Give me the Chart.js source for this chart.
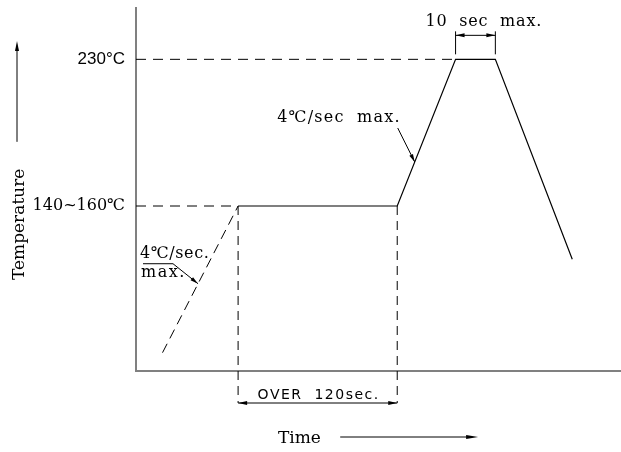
<!DOCTYPE html>
<html>
<head>
<meta charset="utf-8">
<script src="https://cdn.jsdelivr.net/npm/chart.js@4.4.1/dist/chart.umd.min.js"></script>
<style>
  html, body { margin: 0; padding: 0; background: #fff; }
  #wrap { width: 621px; height: 452px; }
</style>
</head>
<body>
<div id="wrap"><canvas id="c" width="621" height="452"></canvas></div>
<script>
// ---- data ----
const profileTime = [77, 197, 241, 271, 329];   // soak start, soak end, peak start, peak end, cool end
const profileTemp = [150, 150, 230, 230, 121];
const preheatTime = [20, 77];
const preheatTemp = [70, 150];
const tickTemps = [150, 230];
const tickLabels = ['140~160\u2103', '230\u00B0C'];
const axisTime = [0, 365];
const axisTemp = [60, 258];

const SERIF = '"DejaVu Serif", "Liberation Serif", serif';

function arrowHead(ctx, x, y, ang, len, half) {
  ctx.save();
  ctx.translate(x, y);
  ctx.rotate(ang);
  ctx.beginPath();
  ctx.moveTo(0, 0);
  ctx.lineTo(-len, -half);
  ctx.lineTo(-len, half);
  ctx.closePath();
  ctx.fill();
  ctx.restore();
}

function spacedText(ctx, txt, x, y, spacing) {
  ctx.letterSpacing = spacing + 'px';
  ctx.fillText(txt, x, y);
  ctx.letterSpacing = '0px';
}

const annot = {
  id: 'annot',
  afterDatasetsDraw(chart) {
    const ctx = chart.ctx;
    const xs = chart.scales.x, ys = chart.scales.y;
    const area = chart.chartArea;
    const sx = v => xs.getPixelForValue(v);
    const sy = v => ys.getPixelForValue(v);
    ctx.save();
    ctx.strokeStyle = '#000';
    ctx.fillStyle = '#000';
    ctx.lineWidth = 1;
    ctx.textBaseline = 'alphabetic';

    // vertical dashed lines marking soak period
    const dimY = area.bottom + 32;
    ctx.setLineDash([9, 6]);
    [profileTime[0], profileTime[1]].forEach(t => {
      ctx.beginPath();
      ctx.moveTo(sx(t), sy(profileTemp[0]));
      ctx.lineTo(sx(t), dimY);
      ctx.stroke();
    });
    ctx.setLineDash([]);

    // soak dimension arrow
    const a0 = sx(profileTime[0]), a1 = sx(profileTime[1]);
    ctx.beginPath();
    ctx.moveTo(a0, dimY); ctx.lineTo(a1, dimY); ctx.stroke();
    arrowHead(ctx, a0, dimY, Math.PI, 9, 2);
    arrowHead(ctx, a1, dimY, 0, 9, 2);
    ctx.font = '14px "DejaVu Sans", sans-serif';
    ctx.textAlign = 'center';
    spacedText(ctx, 'OVER  120sec.', (a0 + a1) / 2 + 1, dimY - 4, 1.5);

    // peak dimension
    const p0 = sx(profileTime[2]), p1 = sx(profileTime[3]);
    const pyTop = sy(profileTemp[2]);
    ctx.beginPath();
    ctx.moveTo(p0, pyTop - 5); ctx.lineTo(p0, pyTop - 28);
    ctx.moveTo(p1, pyTop - 5); ctx.lineTo(p1, pyTop - 28);
    ctx.moveTo(p0, pyTop - 24); ctx.lineTo(p1, pyTop - 24);
    ctx.stroke();
    arrowHead(ctx, p0, pyTop - 24, Math.PI, 9, 2);
    arrowHead(ctx, p1, pyTop - 24, 0, 9, 2);
    ctx.font = '16px ' + SERIF;
    ctx.textAlign = 'left';
    spacedText(ctx, '10  sec  max.', p0 - 30, pyTop - 33, 0.8);

    // ramp-up annotation
    const r0x = sx(profileTime[1]), r0y = sy(profileTemp[1]);
    const r1x = sx(profileTime[2]), r1y = sy(profileTemp[2]);
    const f = 0.30;
    const hx = r0x + (r1x - r0x) * f, hy = r0y + (r1y - r0y) * f;
    ctx.beginPath();
    ctx.moveTo(hx - 17, hy - 34); ctx.lineTo(hx, hy); ctx.stroke();
    arrowHead(ctx, hx, hy, Math.atan2(34, 17), 8, 2);
    ctx.font = '16px ' + SERIF;
    ctx.textAlign = 'right';
    spacedText(ctx, '4\u2103/sec  max.', hx - 14, hy - 40, 1.2);

    // preheat annotation
    const q0x = sx(preheatTime[0]), q0y = sy(preheatTemp[0]);
    const q1x = sx(preheatTime[1]), q1y = sy(preheatTemp[1]);
    const g = 0.47;
    const kx = q0x + (q1x - q0x) * g, ky = q0y + (q1y - q0y) * g;
    ctx.beginPath();
    ctx.moveTo(area.left + 7, ky - 20);
    ctx.lineTo(area.left + 37, ky - 20);
    ctx.lineTo(kx, ky);
    ctx.stroke();
    arrowHead(ctx, kx, ky, Math.atan2(20, kx - area.left - 37), 8, 2);
    ctx.textAlign = 'left';
    spacedText(ctx, '4\u2103/sec.', area.left + 4, ky - 26, 0.6);
    spacedText(ctx, 'max.', area.left + 5, ky - 7, 1.5);

    // axis titles
    ctx.font = '17px ' + SERIF;
    ctx.save();
    ctx.translate(24, sy(140));
    ctx.rotate(-Math.PI / 2);
    ctx.textAlign = 'center';
    ctx.fillText('Temperature', 0, 0);
    ctx.restore();
    const arTop = sy(240), arBot = sy(185);
    ctx.beginPath();
    ctx.moveTo(17, arBot); ctx.lineTo(17, arTop + 8); ctx.stroke();
    arrowHead(ctx, 17, arTop, -Math.PI / 2, 10, 2);

    const ty = area.bottom + 72;
    ctx.textAlign = 'left';
    ctx.fillText('Time', sx(107), ty);
    ctx.beginPath();
    ctx.moveTo(sx(154), ty - 6); ctx.lineTo(sx(253), ty - 6); ctx.stroke();
    arrowHead(ctx, sx(258), ty - 6, 0, 12, 2);

    ctx.restore();
  }
};

new Chart(document.getElementById('c'), {
  type: 'scatter',
  data: {
    datasets: [
      {
        data: profileTime.map((t, i) => ({ x: t, y: profileTemp[i] })),
        showLine: true, borderColor: '#000', borderWidth: 1.2, pointRadius: 0, tension: 0
      },
      {
        data: preheatTime.map((t, i) => ({ x: t, y: preheatTemp[i] })),
        showLine: true, borderColor: '#000', borderWidth: 1, borderDash: [10, 6], pointRadius: 0
      },
      {
        data: [{ x: axisTime[0], y: profileTemp[2] }, { x: profileTime[2], y: profileTemp[2] }],
        showLine: true, borderColor: '#000', borderWidth: 1, borderDash: [10, 7], pointRadius: 0
      },
      {
        data: [{ x: axisTime[0], y: profileTemp[0] }, { x: profileTime[0], y: profileTemp[0] }],
        showLine: true, borderColor: '#000', borderWidth: 1, borderDash: [10, 7], pointRadius: 0
      }
    ]
  },
  options: {
    responsive: false,
    animation: false,
    layout: { padding: { top: 8, right: 1, left: 0, bottom: 0 } },
    plugins: { legend: { display: false }, tooltip: { enabled: false } },
    scales: {
      x: {
        type: 'linear', min: axisTime[0], max: axisTime[1],
        grid: { display: false, drawTicks: false },
        border: { display: true, color: '#808080', width: 2 },
        ticks: { display: false },
        afterFit(s) { s.height = 81; s.paddingLeft = 0; s.paddingRight = 0; }
      },
      y: {
        type: 'linear', min: axisTemp[0], max: axisTemp[1],
        grid: { display: false, drawTicks: false },
        border: { display: true, color: '#808080', width: 2 },
        afterBuildTicks(s) { s.ticks = tickTemps.map(v => ({ value: v })); },
        ticks: {
          color: '#000',
          padding: 11,
          callback: v => tickLabels[tickTemps.indexOf(v)],
          font: c => (c.tick && c.tick.value === 230)
            ? { family: '"Liberation Sans", Arial, sans-serif', size: 17 }
            : { family: SERIF, size: 16 }
        },
        afterFit(s) { s.width = 136; s.paddingTop = 0; s.paddingBottom = 0; }
      }
    }
  },
  plugins: [annot]
});
</script>
</body>
</html>
